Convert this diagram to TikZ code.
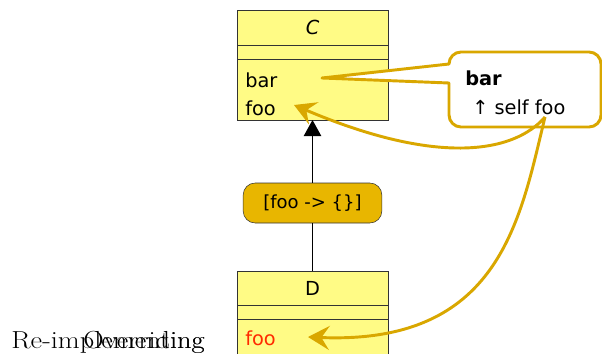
\documentclass[tikz,border=0pt]{standalone}
\usepackage{fontspec}
\usepackage{tikz}
\usetikzlibrary{arrows.meta,positioning}
\newfontfamily\umlfont{DejaVu Sans}
\newcommand\umlsize{\fontsize{14.5}{16}\selectfont}
\definecolor{cGold}{HTML}{D9A700}
\definecolor{cAmber}{HTML}{E8B600}
\definecolor{cPale}{HTML}{FFFB85}
\definecolor{cRed}{HTML}{FF2A00}
\tikzset{
  part/.style={draw=black!80,fill=cPale,line width=0.7pt,minimum width=113.25pt,outer sep=0pt,inner sep=0pt,font=\umlfont\umlsize},
  meth/.style={font=\umlfont\umlsize,anchor=west,inner sep=0pt},
  gold/.style={draw=cGold,line width=2.2pt,line join=round},
  garr/.style={gold,-{Stealth[length=16pt,width=18pt,inset=6pt]}},
  inh/.style={-{Triangle[length=12pt,width=13pt]},line width=0.9pt},
}

\begin{document}
\begin{tikzpicture}[x=0.75pt,y=-0.75pt,
        big/.style={font=\fontsize{18.5}{20}\selectfont,anchor=base east,inner sep=0pt}]
  \useasboundingbox (0,0) rectangle (602,353);
  \clip (0,0) rectangle (602,353);

  % class C
  \node[part,minimum height=26.25pt] (Ctitle) at (312.5,27.5) {\itshape C};
  \node[part,minimum height=10.5pt,below=0pt of Ctitle] (Cattr) {};
  \node[part,minimum height=45.75pt,below=0pt of Cattr] (Cops) {};
  \node[meth] (Cbar) at (245,80) {bar};
  \node[meth] (Cfoo) at (245,108) {foo};

  % trait
  \node[draw=black!80,fill=cAmber,rounded corners=9pt,minimum width=104pt,minimum height=30pt,
        font=\umlfont\fontsize{13.5}{15}\selectfont] (mix) at (312.5,203) {[foo -> \{\}]};

  % class D
  \node[part,minimum height=25.5pt] (Dtitle) at (312.5,288) {D};
  \node[part,minimum height=10.5pt,below=0pt of Dtitle] (Dattr) {};
  \node[part,minimum height=45.75pt,below=0pt of Dattr] (Dops) {};
  \node[meth,text=cRed] (Dfoo) at (245,338) {foo};

  \draw[inh] (mix) -- (Cops);
  \draw[line width=0.9pt] (Dtitle) -- (mix);

  % callout
  \coordinate (tip) at (322,78);
  \draw[gold,fill=white] (tip) -- (449,64) {[rounded corners=9pt] -- (449,52) -- (601,52) -- (601,127) -- (449,127)} -- (449,83) -- cycle;
  \node[meth,font=\umlfont\bfseries\umlsize] (nbar) at (465,78) {bar};
  \node[meth] (nself) at (472,107) {↑ self foo};

  \coordinate (selffoo) at (545,117);
  \coordinate (Cin) at (294,105);
  \coordinate (Din) at (308,337);
  \draw[garr] (selffoo) .. controls (515,152) and (440,167) .. (Cin);
  \draw[garr] (selffoo) .. controls (520,220) and (500,345) .. (Din);

  \node[big] (reimpl) at (205,348) {\scalebox{1.15}[1]{Re-implementing}};
  \node[big] (overr) at (205,348) {\scalebox{1.15}[1]{Overriding}};
\end{tikzpicture}
\end{document}
